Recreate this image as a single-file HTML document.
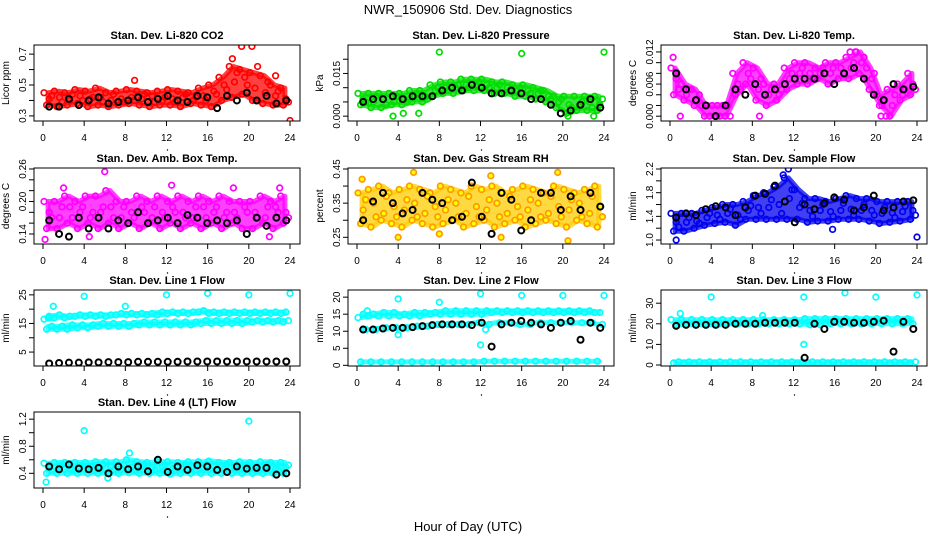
<!DOCTYPE html>
<html><head><meta charset="utf-8">
<style>
html,body{margin:0;padding:0;background:#fff;}
svg{display:block;font-family:"Liberation Sans",sans-serif;}
</style></head>
<body>
<svg id="chart" width="936" height="540" xmlns="http://www.w3.org/2000/svg">
<rect width="936" height="540" fill="#fff"/>
<text x="468" y="14" text-anchor="middle" font-size="13">NWR_150906  Std. Dev. Diagnostics</text>
<text x="468" y="531" text-anchor="middle" font-size="13">Hour of Day (UTC)</text>
</svg>
<script>
// ---- data ----
const xTicks = [0,4,8,12,16,20,24];
const seriesOffsets = [0.1,0.35,0.6,0.85];

const titles = ["Stan. Dev. Li-820 CO2","Stan. Dev. Li-820 Pressure","Stan. Dev. Li-820 Temp.","Stan. Dev. Amb. Box Temp.","Stan. Dev. Gas Stream RH","Stan. Dev. Sample Flow","Stan. Dev. Line 1 Flow","Stan. Dev. Line 2 Flow","Stan. Dev. Line 3 Flow","Stan. Dev. Line 4 (LT) Flow"];
const yLabels = ["Licor ppm","kPa","degrees C","degrees C","percent","ml/min","ml/min","ml/min","ml/min","ml/min"];
const yDomains = [[0.267,0.759],[-0.0017,0.025],[-0.0009,0.0133],[0.1215,0.2618],[0.2304,0.4529],[0.933,2.217],[0.13,26.7],[-0.2,22.1],[-0.48,36.4],[0.183,1.306]];
const yTickVals = [[0.3,0.4,0.5,0.6,0.7],[0,0.005,0.01,0.015,0.02],[0,0.002,0.004,0.006,0.008,0.01,0.012],[0.14,0.16,0.18,0.2,0.22,0.24,0.26],[0.25,0.3,0.35,0.4,0.45],[1.0,1.2,1.4,1.6,1.8,2.0,2.2],[5,10,15,20,25],[0,5,10,15,20],[0,10,20,30],[0.4,0.6,0.8,1.0,1.2]];
const yTickLabels = [["0.3","","0.5","","0.7"],["0.000","","","0.015",""],["0.000","","","0.006","","","0.012"],["0.14","","","0.20","","","0.26"],["0.25","","0.35","","0.45"],["1.0","","1.4","","1.8","","2.2"],["5","","15","","25"],["0","5","10","15","20"],["0","10","20","30"],["0.4","","0.8","","1.2"]];
const colors = ["#ff0000","#00dd00","#ff00ff","#ff00ff","#ff9900","#0000ee","#00ffff","#00ffff","#00ffff","#00ffff"];

const co2A=[.45,.46,.45,.47,.46,.48,.45,.46,.47,.46,.45,.46,.47,.46,.45,.48,.50,.55,.62,.60,.58,.56,.50,.48];
const co2B=[.37,.36,.37,.38,.36,.37,.36,.37,.38,.37,.36,.37,.37,.36,.38,.37,.36,.40,.42,.44,.40,.38,.37,.37];
const co2C=[.41,.42,.40,.43,.41,.42,.40,.41,.42,.41,.43,.40,.41,.42,.40,.43,.46,.50,.52,.55,.48,.45,.43,.41];
const co2D=[.43,.39,.44,.40,.42,.39,.44,.39,.40,.44,.39,.42,.39,.44,.42,.40,.44,.47,.58,.50,.62,.52,.46,.39];
const co2ExX=[19.3,20.3,18.4,24,8.9,22.6];
const co2ExY=[.75,.75,.67,.27,.53,.56];
const co2Black=[.36,.36,.41,.37,.40,.42,.38,.39,.40,.42,.39,.41,.43,.40,.39,.43,.42,.35,.43,.40,.45,.40,.43,.38,.40];

const prA=[.008,.008,.008,.008,.008,.009,.009,.011,.012,.012,.013,.013,.013,.012,.012,.011,.011,.010,.009,.007,.007,.007,.007,.007];
const prB=[.004,.003,.003,.004,.004,.005,.005,.007,.008,.008,.009,.009,.009,.008,.008,.007,.007,.006,.005,.003,.001,.002,.002,.002];
const prC=[.006,.005,.006,.005,.006,.007,.007,.009,.010,.010,.011,.011,.011,.010,.010,.009,.009,.008,.007,.005,.004,.004,.005,.004];
const prD=[.005,.007,.004,.007,.005,.008,.006,.010,.009,.011,.010,.012,.010,.011,.009,.010,.008,.009,.006,.006,.003,.005,.003,.006];
const prExX=[8,16,24,3.5,4.5,6,23,20.5];
const prExY=[.0225,.022,.0225,0,.001,.001,0,0];
const prBlack=[.005,.006,.006,.007,.006,.007,.007,.007,.009,.010,.009,.011,.010,.008,.008,.009,.008,.006,.006,.004,.001,.002,.004,.006,.003];

const ltA=[.009,.006,.005,.002,.002,.002,.008,.010,.009,.006,.006,.009,.010,.010,.009,.010,.010,.011,.012,.009,.004,.005,.006,.008];
const ltB=[.004,.003,.002,0,0,0,.004,.006,.003,.002,.003,.005,.006,.006,.007,.006,.007,.007,.008,.005,.002,0,.003,.004];
const ltC=[.007,.004,.003,.002,.002,.002,.006,.008,.005,.004,.004,.007,.008,.008,.008,.008,.009,.009,.010,.007,.002,.002,.004,.006];
const ltD=[.005,.005,.004,0,0,0,.005,.007,.007,.005,.005,.008,.009,.007,.009,.009,.008,.010,.011,.008,.003,.004,.005,.005];
const ltExX=[8.7,1,20.5,21,0.3,17.5,18];
const ltExY=[0,0,0,0,.011,.012,.012];
const ltBlack=[.008,.005,.003,.002,0,.002,.005,.004,.006,.004,.005,.006,.007,.007,.007,.008,.006,.008,.009,.007,.004,.003,.006,.005,.0055];

const abA=[.20,.20,.21,.20,.21,.21,.22,.20,.20,.21,.20,.21,.20,.21,.20,.21,.20,.21,.20,.20,.20,.21,.20,.21];
const abB=[.15,.15,.16,.15,.16,.15,.16,.15,.16,.15,.16,.15,.16,.15,.16,.15,.16,.15,.16,.15,.15,.16,.15,.16];
const abC=[.18,.17,.19,.18,.17,.18,.19,.17,.18,.19,.17,.18,.19,.18,.17,.19,.18,.17,.18,.19,.18,.17,.19,.18];
const abD=[.17,.19,.17,.19,.18,.19,.17,.19,.17,.18,.19,.17,.18,.17,.19,.17,.19,.18,.17,.18,.17,.19,.18,.17];
const abExX=[0.2,6,4.5,12.5,2,18.5,22,23];
const abExY=[.13,.255,.135,.23,.225,.225,.135,.225];
const abBlack=[.165,.14,.135,.17,.15,.17,.15,.165,.16,.18,.16,.165,.17,.16,.175,.17,.16,.165,.16,.165,.14,.17,.155,.17,.165];

const rhA=[.38,.39,.40,.38,.39,.40,.39,.38,.40,.39,.38,.40,.39,.40,.38,.39,.40,.39,.38,.40,.39,.38,.39,.40];
const rhB=[.29,.28,.30,.29,.28,.30,.29,.28,.29,.30,.28,.29,.30,.28,.29,.30,.28,.29,.30,.29,.28,.30,.29,.28];
const rhC=[.33,.35,.32,.34,.33,.35,.32,.34,.33,.35,.32,.34,.33,.35,.32,.34,.33,.35,.32,.34,.33,.35,.32,.34];
const rhD=[.36,.31,.37,.31,.36,.31,.37,.31,.36,.31,.37,.31,.36,.31,.37,.31,.36,.31,.37,.31,.36,.31,.37,.31];
const rhExX=[4,5.5,14,20.5,8,13,19.5,0.5];
const rhExY=[.25,.44,.25,.24,.26,.43,.44,.42];
const rhBlack=[.30,.355,.38,.35,.32,.33,.38,.36,.35,.30,.31,.41,.31,.26,.38,.36,.27,.30,.38,.38,.33,.37,.33,.38,.34];

const sfA=[1.45,1.45,1.45,1.50,1.55,1.60,1.60,1.65,1.75,1.80,1.90,2.05,1.85,1.70,1.70,1.65,1.70,1.75,1.70,1.70,1.65,1.65,1.65,1.65];
const sfB=[1.15,1.15,1.20,1.25,1.28,1.30,1.25,1.35,1.35,1.35,1.35,1.35,1.35,1.30,1.32,1.32,1.35,1.35,1.35,1.32,1.28,1.30,1.32,1.35];
const sfC=[1.30,1.30,1.32,1.38,1.42,1.45,1.42,1.50,1.55,1.55,1.60,1.70,1.55,1.50,1.50,1.48,1.50,1.52,1.50,1.50,1.45,1.46,1.48,1.50];
const sfD=[1.22,1.38,1.28,1.45,1.35,1.52,1.35,1.58,1.45,1.68,1.45,1.85,1.62,1.40,1.60,1.40,1.62,1.42,1.60,1.42,1.55,1.38,1.57,1.42];
const sfExX=[0.6,24,11.5,11,15.8];
const sfExY=[1.0,1.05,2.2,2.1,1.18];
const sfBlack=[1.38,1.45,1.42,1.52,1.57,1.55,1.42,1.55,1.75,1.78,1.92,1.65,1.30,1.60,1.52,1.62,1.72,1.68,1.50,1.55,1.75,1.50,1.55,1.65,1.67];

const l1A=[16.5,17,17,17.5,17.5,17.5,17.5,18,18,18,18,18,18.5,18.5,18.5,19,18.5,18.5,18.5,18.5,18.5,18.5,18.5,18.5];
const l1B=[13,13,13,13.5,13.5,14,14,14,14,14.5,14.5,14.5,14.5,14.5,14.5,15,15,15,15,15,15.5,15.5,15.5,15.5];
const l1C=[17.5,18,17.5,18,18,18,18,18.5,18.5,18.5,18.5,19,19,19,19,19.5,19,19,19,19,19,19,19,19];
const l1D=[14,14,14.5,14.5,14.5,15,15,15,15,15.5,15.5,15.5,15.5,15.5,15.5,16,16,16,16,16,16,16,16,16];
const l1ExX=[4,8,12,16,20,24,1,0.5];
const l1ExY=[24.5,21,25,25.5,25,25.5,21,17];
const l1Black=[1,1.2,1.3,1.3,1.4,1.4,1.5,1.5,1.5,1.6,1.6,1.6,1.6,1.6,1.7,1.7,1.7,1.7,1.7,1.7,1.7,1.7,1.7,1.7,1.7];

const l2A=[14,14.5,14.5,14.5,14.5,14.5,14.5,15,15,15,15,15,15,15.5,15.5,15.5,15.5,15.5,15.5,15.5,15.5,15.5,15.5,15.5];
const l2B=[1,1,1,1,1,1,1,1,1,1,1,1,1.2,1.2,1.2,1.2,1.2,1.2,1.2,1.2,1.2,1.2,1.2,1.2];
const l2C=[15,15,15.5,15.5,15,15.5,15.5,15.5,16,16,16,16,16,16,16,16,16,16,16,16,16,16,16,15.5];
const l2D=[10.5,10.5,11,11,11,11.5,11.5,12,12,12,12,12.5,12,12.5,12.5,12,12,12.5,12.5,12.5,12.5,12.5,12.5,12];
const l2ExX=[4,8,12,16,20,24,4,12.5,12,1];
const l2ExY=[19.5,18.5,21,20.5,20.5,20.5,9,10.5,6,16];
const l2Black=[10.5,10.5,10.8,11,11,11.2,11.5,11.8,12,12,12,11.8,12.5,5.5,12,12.5,13,12.5,12,11,12.5,13,7.5,12.5,11];

const l3A=[22,22,22,22,22,22,22,22,22,22,22,22,22,22.5,22.5,22.5,22.5,22.5,22.5,22.5,22.5,22.5,22.5,22.5];
const l3B=[1,1,1,1,1,1,1,1,1,1,1,1,1,1,1,1,1,1,1,1,1,1,1,1];
const l3C=[19.5,19.5,19.5,19.5,19.5,20,20,20,20,20,20,20,20,19.5,19.5,20,20,20,20,20,20,20,20,20];
const l3D=[1.5,1.5,1.5,1.5,1.5,1.5,1.5,1.5,1.5,1.5,1.5,1.5,1.5,1.5,1.5,1.5,1.5,1.5,1.5,1.5,1.5,1.5,1.5,1.5];
const l3ExX=[4,13,17,20,24,13,1,9];
const l3ExY=[33,33,35,33,34,10,25,24];
const l3Black=[19,19.5,19.5,19.5,19.5,19.5,20,20,20,20.5,20.5,20.5,20.5,3.5,20,17.5,21,21,20.5,20.5,21,21.5,6.5,21,17.5];

const l4A=[.55,.56,.56,.56,.56,.57,.57,.57,.60,.57,.56,.57,.57,.56,.57,.57,.58,.56,.56,.57,.56,.57,.56,.56];
const l4B=[.40,.40,.40,.40,.40,.40,.40,.40,.41,.40,.40,.40,.39,.40,.40,.40,.40,.40,.40,.40,.40,.40,.40,.40];
const l4C=[.48,.50,.47,.49,.50,.48,.50,.47,.49,.50,.48,.50,.47,.49,.50,.48,.50,.47,.49,.50,.48,.50,.47,.49];
const l4D=[.44,.53,.45,.52,.44,.53,.45,.52,.44,.53,.45,.52,.44,.53,.45,.52,.44,.53,.45,.52,.44,.53,.45,.52];
const l4ExX=[4,12,20,0.3,8.4,6.3];
const l4ExY=[1.03,1.35,1.17,.27,.7,.33];
const l4Black=[.5,.46,.53,.47,.46,.48,.4,.5,.46,.5,.43,.6,.42,.5,.45,.52,.5,.45,.42,.5,.47,.48,.48,.38,.4];

const colorSeries=[[co2A,co2B,co2C,co2D],[prA,prB,prC,prD],[ltA,ltB,ltC,ltD],[abA,abB,abC,abD],[rhA,rhB,rhC,rhD],[sfA,sfB,sfC,sfD],[l1A,l1B,l1C,l1D],[l2A,l2B,l2C,l2D],[l3A,l3B,l3C,l3D],[l4A,l4B,l4C,l4D]];
const extraX=[co2ExX,prExX,ltExX,abExX,rhExX,sfExX,l1ExX,l2ExX,l3ExX,l4ExX];
const extraY=[co2ExY,prExY,ltExY,abExY,rhExY,sfExY,l1ExY,l2ExY,l3ExY,l4ExY];
const blackSeries=[co2Black,prBlack,ltBlack,abBlack,rhBlack,sfBlack,l1Black,l2Black,l3Black,l4Black];
// which series pairs bound the dense point clouds
const bandPairs=[[[0,1]],[[0,1]],[[0,1]],[[0,1]],[[0,1]],[[0,1]],[[0,2],[1,3]],[[0,2],[1,1],[3,3]],[[0,2],[1,3]],[[0,1]]];

// ---- layout ----
const colLeft=[34,348,661], rowTop=[45,168,290,412], boxW=266, boxH=76;
const NS="http://www.w3.org/2000/svg";
const svg=document.getElementById('chart');
function mk(tag,attrs,parent){const e=document.createElementNS(NS,tag);for(const k in attrs)e.setAttribute(k,attrs[k]);(parent||svg).appendChild(e);return e;}

for(let p=0;p<10;p++){
  const L=colLeft[p%3], T=rowTop[Math.floor(p/3)];
  const g=mk('g',{});
  
  
  const xS=h=>L+9+h/24*247;
  const [y0,y1]=yDomains[p];
  const yS=v=>T+boxH-(v-y0)/(y1-y0)*boxH;
  const t=mk('text',{x:L+boxW/2,y:T-6,'text-anchor':'middle','font-size':'11','font-weight':'bold'},g);
  t.textContent=titles[p];
  
  
  const yl=mk('text',{x:0,y:0,'text-anchor':'middle','font-size':'10',transform:`translate(${L-25},${T+boxH/2}) rotate(-90)`},g);
  yl.textContent=yLabels[p];
  
  
  mk('line',{x1:xS(0),x2:xS(24),y1:T+boxH,y2:T+boxH,stroke:'#000','stroke-width':1},g);
  xTicks.forEach(v=>{
    mk('line',{x1:xS(v),x2:xS(v),y1:T+boxH,y2:T+boxH+5,stroke:'#000'},g);
    const tx=mk('text',{x:xS(v),y:T+boxH+20,'text-anchor':'middle','font-size':'10'},g);
    tx.textContent=v;
    
    
  });
  mk('circle',{cx:xS(12)+1,cy:T+boxH+29,r:0.7,fill:'#000'},g);
  yTickVals[p].forEach((v,i)=>{
    const yy=yS(v);
    mk('line',{x1:L-5,x2:L,y1:yy,y2:yy,stroke:'#000'},g);
    if(yTickLabels[p][i]){
      const ty=mk('text',{x:0,y:0,'text-anchor':'middle','font-size':'10',transform:`translate(${L-8},${yy}) rotate(-90)`},g);
      ty.textContent=yTickLabels[p][i];
      
      
    }
  });
  const clipId='c'+p;
  const cp=mk('clipPath',{id:clipId},g);
  mk('rect',{x:L,y:T,width:boxW,height:boxH},cp);
  const pts=mk('g',{'clip-path':`url(#${clipId})`},g);
  const col=colors[p];
  const isRH=(p===4);
  bandPairs[p].forEach(pr=>{
    const up=colorSeries[p][pr[0]], lo=colorSeries[p][pr[1]];
    let d='';
    up.forEach((v,i)=>{d+=(i?'L':'M')+xS(i+0.5).toFixed(1)+','+yS(v).toFixed(1);});
    for(let i=lo.length-1;i>=0;i--){d+='L'+xS(i+0.5).toFixed(1)+','+yS(lo[i]).toFixed(1);}
    d+='Z';
    const b=mk('path',{d:d,fill:isRH?'#ffcc00':col,stroke:isRH?'#ffcc00':col,'stroke-width':5,'stroke-linejoin':'round','fill-opacity':0.75,'stroke-opacity':0.75},pts);
    
    
  });
  colorSeries[p].forEach((arr,j)=>{
    arr.forEach((v,i)=>{
      const c=mk('circle',{cx:xS(i+seriesOffsets[j]),cy:yS(v),r:2.8,fill:isRH?'#ffff00':'none',stroke:col,'stroke-width':1.7},pts);
      
      
    });
  });
  extraX[p].forEach((x,i)=>{
    const c=mk('circle',{cx:xS(x),cy:yS(extraY[p][i]),r:2.8,fill:isRH?'#ffff00':'none',stroke:col,'stroke-width':1.7},pts);
    
    
  });
  blackSeries[p].forEach((v,i)=>{
    const c=mk('circle',{cx:xS(0.6+i*0.96),cy:yS(v),r:3,fill:'none',stroke:'#000','stroke-width':2},pts);
    
    
  });
  const box=mk('rect',{x:L,y:T,width:boxW,height:boxH,fill:'none',stroke:'#000','stroke-width':1},g);
  
  
}
</script>
</body></html>
